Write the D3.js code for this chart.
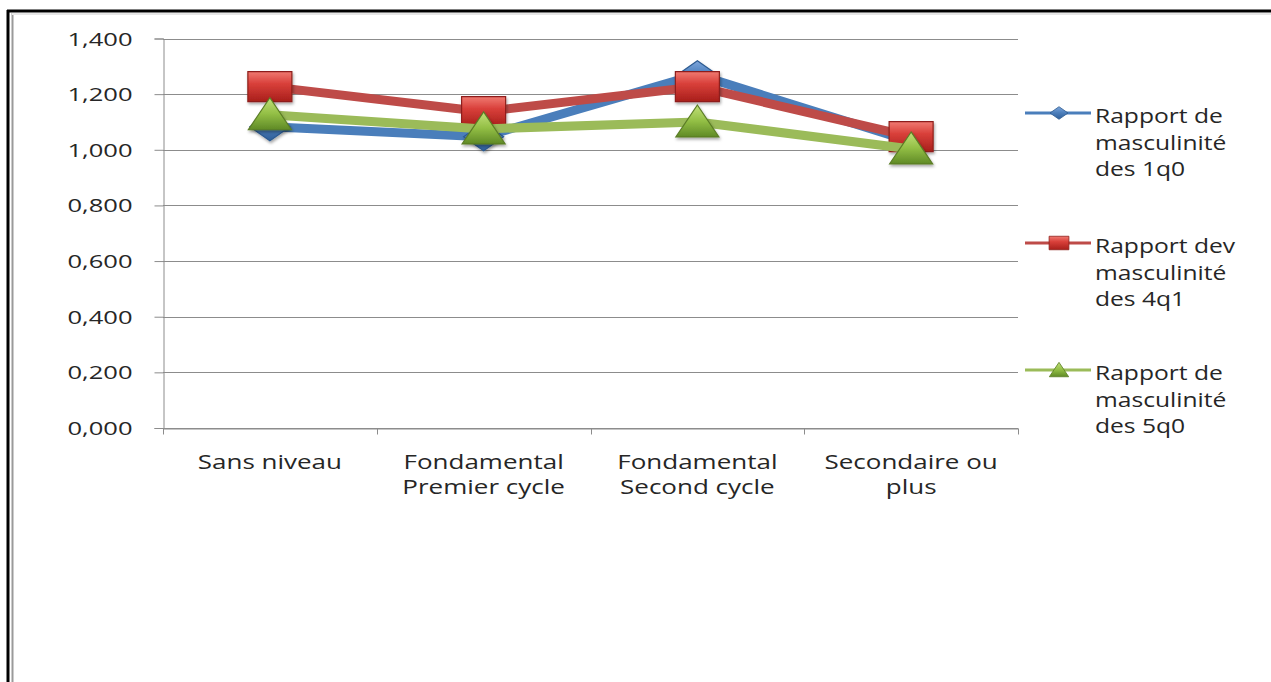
<!DOCTYPE html>
<html>
<head>
<meta charset="utf-8">
<script src="https://cdn.jsdelivr.net/npm/d3@7/dist/d3.min.js"></script>
<style>
  html, body { margin: 0; padding: 0; background: #fff; }
  svg { display: block; }
  text { font-family: "Open Sans", sans-serif; fill: #262626; }
</style>
</head>
<body>
<svg id="chart" width="1271" height="682"></svg>
<script>
// ---- data ----
const categories = [["Sans niveau"], ["Fondamental", "Premier cycle"], ["Fondamental", "Second cycle"], ["Secondaire ou", "plus"]];
const categoryKeys = ["Sans niveau", "Fondamental Premier cycle", "Fondamental Second cycle", "Secondaire ou plus"];
const series1q0 = [1.083, 1.047, 1.270, 1.030];
const series4q1 = [1.227, 1.137, 1.227, 1.047];
const series5q0 = [1.126, 1.075, 1.100, 1.003];
const seriesNames = [["Rapport de", "masculinité", "des 1q0"], ["Rapport dev", "masculinité", "des 4q1"], ["Rapport de", "masculinité", "des 5q0"]];
const tickValues = [0, 0.2, 0.4, 0.6, 0.8, 1.0, 1.2, 1.4];
const tickLabels = ["0,000", "0,200", "0,400", "0,600", "0,800", "1,000", "1,200", "1,400"];

const svg = d3.select("#chart");
const defs = svg.append("defs");

// gradients for 3D-looking markers
function grad(id, stops) {
  const g = defs.append("linearGradient").attr("id", id).attr("x1", 0).attr("y1", 0).attr("x2", 0).attr("y2", 1);
  stops.forEach(s => g.append("stop").attr("offset", s[0]).attr("stop-color", s[1]));
}
grad("gBlue", [[0, "#7ea6dc"], [0.45, "#4f81bd"], [1, "#2f5f9a"]]);
grad("gRed", [[0, "#f07a72"], [0.4, "#d9403a"], [1, "#a81f1b"]]);
grad("gGreen", [[0, "#c2e07a"], [0.5, "#93bf45"], [1, "#5f8a26"]]);
const f = defs.append("filter").attr("id", "shadow").attr("x", "-30%").attr("y", "-30%").attr("width", "160%").attr("height", "170%");
f.append("feDropShadow").attr("dx", 1).attr("dy", 2).attr("stdDeviation", 1.5).attr("flood-color", "#000").attr("flood-opacity", 0.35);

// frame
svg.append("line").attr("x1", 7).attr("x2", 1271).attr("y1", 11).attr("y2", 11).attr("stroke", "#000").attr("stroke-width", 3);
svg.append("line").attr("x1", 8).attr("x2", 8).attr("y1", 10).attr("y2", 682).attr("stroke", "#000").attr("stroke-width", 3);
svg.append("line").attr("x1", 12.5).attr("x2", 12.5).attr("y1", 13).attr("y2", 682).attr("stroke", "#9a9a9a").attr("stroke-width", 2);
svg.append("line").attr("x1", 12).attr("x2", 1271).attr("y1", 14).attr("y2", 14).attr("stroke", "#e6e6e6").attr("stroke-width", 2);

// scales
const x = d3.scaleBand().domain(categoryKeys).range([163, 1018]).padding(0);
const y = d3.scaleLinear().domain([0, 1.4]).range([428, 38.5]);
const cx = k => x(k) + x.bandwidth() / 2;

// gridlines
svg.append("g").selectAll("line").data(tickValues).join("line")
  .attr("x1", 163).attr("x2", 1018)
  .attr("y1", d => Math.round(y(d)) + 0.5).attr("y2", d => Math.round(y(d)) + 0.5)
  .attr("stroke", "#8c8c8c").attr("stroke-width", 1);

// y axis
const yAxis = svg.append("g").attr("transform", "translate(163.5,0)")
  .call(d3.axisLeft(y).tickValues(tickValues).tickSize(9).tickFormat((d, i) => tickLabels[i]));
yAxis.select(".domain").attr("stroke", "#8c8c8c");
yAxis.selectAll(".tick line").attr("stroke", "#8c8c8c");
yAxis.selectAll(".tick text").each(function () {
  const t = d3.select(this);
  t.attr("x", null).attr("dy", null).attr("text-anchor", "end")
    .attr("transform", "translate(-31,6.5) scale(1.42,1)")
    .style("font-size", "18px").style("font-family", "'Open Sans', sans-serif").attr("fill", "#262626");
});

// x axis
const xAxis = svg.append("g").attr("transform", `translate(0,${Math.round(y(0)) + 0.5})`)
  .call(d3.axisBottom(x).tickSize(0).tickFormat(""));
xAxis.select(".domain").attr("stroke", "#8c8c8c");
const edges = categoryKeys.map(k => x(k)).concat([x(categoryKeys[3]) + x.bandwidth()]);
xAxis.append("g").selectAll("line").data(edges).join("line")
  .attr("x1", d => Math.round(d) + 0.5).attr("x2", d => Math.round(d) + 0.5)
  .attr("y1", 0).attr("y2", 6).attr("stroke", "#8c8c8c");

// category labels
const catG = svg.append("g");
categories.forEach((lines, i) => {
  lines.forEach((ln, j) => {
    catG.append("text")
      .attr("transform", `translate(${cx(categoryKeys[i])},${469 + j * 25}) scale(1.3,1)`)
      .attr("text-anchor", "middle").style("font-size", "20px").text(ln);
  });
});

// series
const seriesDefs = [
  { vals: series1q0, line: "#4a7ebb", fill: "url(#gBlue)", stroke: "#2c5a91", shape: "diamond" },
  { vals: series4q1, line: "#be4b48", fill: "url(#gRed)", stroke: "#8e1f1b", shape: "square" },
  { vals: series5q0, line: "#9bbb59", fill: "url(#gGreen)", stroke: "#5b7d25", shape: "triangle" }
];

function markerPath(shape, s) {
  // s: scale factor
  const w = 22 * s, h = 15 * s;
  if (shape === "square") return `M${-w},${-h}H${w}V${h}H${-w}Z`;
  if (shape === "diamond") return `M0,${-14 * s}L${20 * s},0L0,${14 * s}L${-20 * s},0Z`;
  return `M0,${-17 * s}L${21.5 * s},${15 * s}L${-21.5 * s},${15 * s}Z`;
}

const line = d3.line().x((d, i) => cx(categoryKeys[i])).y(d => y(d));
seriesDefs.forEach(sd => {
  const g = svg.append("g");
  g.append("path").attr("d", line(sd.vals)).attr("fill", "none")
    .attr("stroke", sd.line).attr("stroke-width", 9).attr("stroke-linejoin", "round");
  g.selectAll("path.m").data(sd.vals).join("path").attr("class", "m")
    .attr("transform", (d, i) => `translate(${cx(categoryKeys[i])},${y(d)})`)
    .attr("d", markerPath(sd.shape, 1))
    .attr("fill", sd.fill).attr("stroke", sd.stroke).attr("stroke-width", 1.2)
    .attr("filter", "url(#shadow)");
});

// legend
const legendY = [113, 243, 370];
const lg = svg.append("g");
seriesDefs.forEach((sd, i) => {
  const ly = legendY[i];
  lg.append("line").attr("x1", 1025).attr("x2", 1091).attr("y1", ly).attr("y2", ly)
    .attr("stroke", sd.line).attr("stroke-width", 3);
  lg.append("path").attr("transform", `translate(1059,${ly})`)
    .attr("d", markerPath(sd.shape, 0.45))
    .attr("fill", sd.fill).attr("stroke", sd.stroke).attr("stroke-width", 0.8);
  seriesNames[i].forEach((t, j) => {
    lg.append("text").attr("transform", `translate(1095,${ly + 10 + j * 26.5}) scale(1.23,1)`)
      .style("font-size", "20px").text(t);
  });
});
</script>
</body>
</html>
